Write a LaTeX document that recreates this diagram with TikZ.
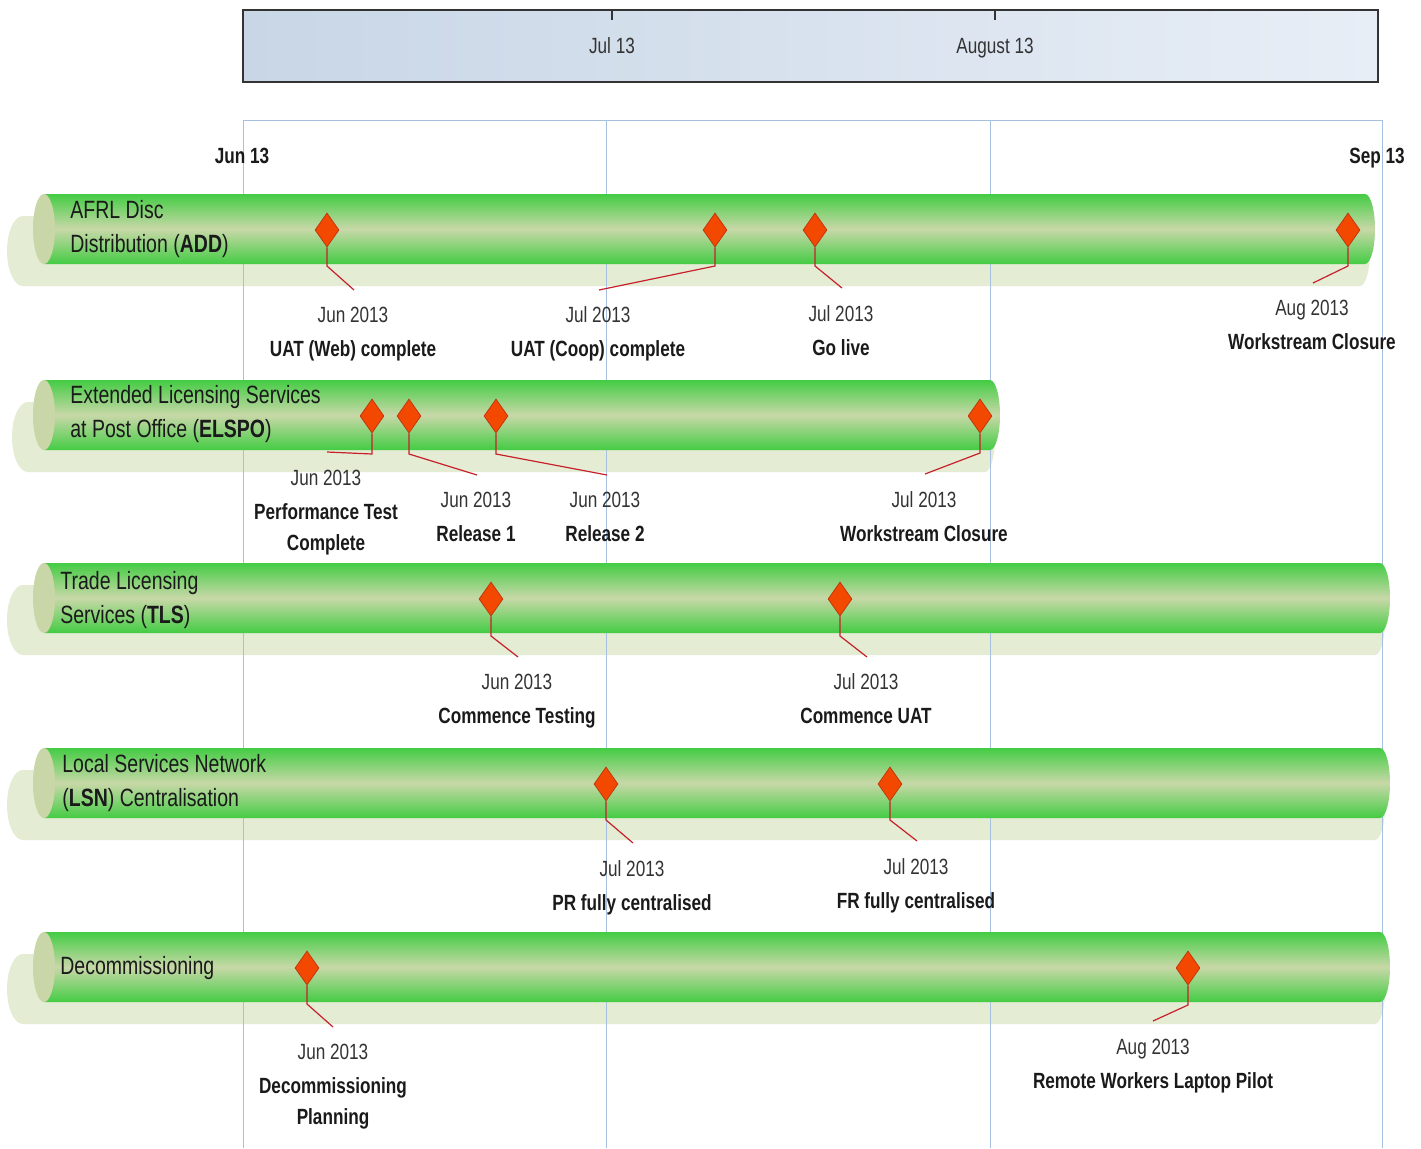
\documentclass[tikz,border=0pt]{standalone}
\usepackage{fontspec}
\setmainfont[FakeStretch=0.78]{Liberation Sans}
\usepackage{xcolor}
\usetikzlibrary{shapes.geometric}
\definecolor{bargreen}{HTML}{44CC44}
\definecolor{barmid}{HTML}{C8D8A8}
\definecolor{capface}{HTML}{C8D6A8}
\definecolor{shadowgreen}{HTML}{E4ECD4}
\definecolor{gridblue}{HTML}{A8C0E0}
\definecolor{hdrleft}{HTML}{C8D6E6}
\definecolor{hdrright}{HTML}{E8EEF6}
\definecolor{milefill}{HTML}{F24800}
\definecolor{mileedge}{HTML}{C03810}
\definecolor{leader}{HTML}{C8202A}
\definecolor{ink}{HTML}{1A1A1A}
\definecolor{datecol}{HTML}{333333}
\tikzset{
  hdr/.style={draw=black!80, line width=0.8pt, left color=hdrleft, right color=hdrright},
  gridline/.style={draw=gridblue, line width=0.5pt},
  shadowbar/.style={fill=shadowgreen},
  barbody/.style={top color=bargreen, bottom color=bargreen, middle color=barmid},
  barcap/.style={fill=capface},
  mstone/.style={diamond, fill=milefill, draw=mileedge, line width=0.4pt, inner sep=0pt, minimum width=12pt, minimum height=17pt},
  lead/.style={draw=leader, line width=0.6pt},
  tick/.style={draw=black!80, line width=0.6pt},
  monthlab/.style={font=\fontsize{11pt}{13pt}\selectfont, text=datecol, anchor=base, inner sep=0pt},
  edgelab/.style={font=\fontsize{11pt}{13pt}\selectfont\bfseries, text=ink, anchor=base, inner sep=0pt},
  barlab/.style={font=\fontsize{12.5pt}{17pt}\selectfont, text=ink, align=left, anchor=base west, inner sep=0pt},
  msl/.style={font=\fontsize{11pt}{15.5pt}\selectfont, text=ink, align=center, anchor=base, inner sep=0pt},
}

\begin{document}
\begin{tikzpicture}[x=0.5pt, y=-0.5pt]
  \fill[white] (0,0) rectangle (1421,1148);
  \useasboundingbox (0,0) rectangle (1421,1148);

  % time scale on top
  \draw[hdr] (243,10) rectangle (1378,82);
  \draw[tick] (612,10) -- (612,20);
  \draw[tick] (995,10) -- (995,20);
  \node[monthlab] (jul) at (612,53) {Jul 13};
  \node[monthlab] (aug) at (995,53) {August 13};

  % shadows under the bars
  \foreach \t/\b/\r/\s in {194/264/1375/7, 380/450/1000/12, 563/633/1390/7, 748/818/1390/7, 932/1002/1390/7}
    \fill[shadowbar] (\s+16,\t+22) -- (\r-15,\t+22) arc[start angle=-90, end angle=90, x radius=10, y radius=35]
      -- (\s+16,\b+22) arc[start angle=90, end angle=270, x radius=16, y radius=35] -- cycle;

  % grid
  \draw[gridline] (243,1148) -- (243,120) -- (1382,120) -- (1382,1148);
  \draw[gridline] (606,120) -- (606,1148);
  \draw[gridline] (990,120) -- (990,1148);
  \node[edgelab] (jun) at (242,163) {Jun 13};
  \node[edgelab] (sep) at (1377,163) {Sep 13};

  % bars
  \foreach \t/\b/\r in {194/264/1375, 380/450/1000, 563/633/1390, 748/818/1390, 932/1002/1390}
  {
    \shade[barbody] (44,\t) -- (\r-10,\t) arc[start angle=-90, end angle=90, x radius=10, y radius=35] -- (44,\b) -- cycle;
    \fill[barcap] (44,{(\t+\b)/2}) ellipse [x radius=11, y radius=35];
  }

  \node[barlab] (add) at (70,252.5) {AFRL Disc\\Distribution (\textbf{ADD})};
  \node[barlab] (elspo) at (70,437.5) {Extended Licensing Services\\at Post Office (\textbf{ELSPO})};
  \node[barlab] (tls) at (60,623.5) {Trade Licensing\\Services (\textbf{TLS})};
  \node[barlab] (lsn) at (62,806.5) {Local Services Network\\(\textbf{LSN}) Centralisation};
  \node[barlab] (dec) at (60,974.5) {Decommissioning};

  % milestones and leaders
  \foreach \n/\x/\y/\by/\ex/\ey in {a1/327/230/266/354/290, a2/715/230/266/599/290, a3/815/230/266/842/288, a4/1348/230/266/1313/283,
      e1/372/416/454/327/452, e2/409/416/454/477/475, e3/496/416/454/607/475, e4/980/416/453/925/474,
      t1/491/599/636/518/657, t2/840/599/636/867/657, l1/606/784/820/633/843, l2/890/784/820/917/841,
      d1/307/968/1004/333/1027, d2/1188/968/1005/1153/1021}
  {
    \node[mstone] (\n) at (\x,\y) {};
    \coordinate (\n b) at (\x,\by);
    \coordinate (\n e) at (\ex,\ey);
    \draw[lead] (\n.south) -- (\n b) -- (\n e);
  }

  % milestone texts
  \node[msl] (a1t) at (353,356) {{\color{datecol}Jun 2013}\\[1.5pt]\textbf{UAT (Web) complete}};
  \node[msl] (a2t) at (598,356) {{\color{datecol}Jul 2013}\\[1.5pt]\textbf{UAT (Coop) complete}};
  \node[msl] (a3t) at (841,355) {{\color{datecol}Jul 2013}\\[1.5pt]\textbf{Go live}};
  \node[msl] (a4t) at (1312,349) {{\color{datecol}Aug 2013}\\[1.5pt]\textbf{Workstream Closure}};
  \node[msl] (e1t) at (326,550) {{\color{datecol}Jun 2013}\\[1.5pt]\textbf{Performance Test}\\\textbf{Complete}};
  \node[msl] (e2t) at (476,541) {{\color{datecol}Jun 2013}\\[1.5pt]\textbf{Release 1}};
  \node[msl] (e3t) at (605,541) {{\color{datecol}Jun 2013}\\[1.5pt]\textbf{Release 2}};
  \node[msl] (e4t) at (924,541) {{\color{datecol}Jul 2013}\\[1.5pt]\textbf{Workstream Closure}};
  \node[msl] (t1t) at (517,723) {{\color{datecol}Jun 2013}\\[1.5pt]\textbf{Commence Testing}};
  \node[msl] (t2t) at (866,723) {{\color{datecol}Jul 2013}\\[1.5pt]\textbf{Commence UAT}};
  \node[msl] (l1t) at (632,910) {{\color{datecol}Jul 2013}\\[1.5pt]\textbf{PR fully centralised}};
  \node[msl] (l2t) at (916,908) {{\color{datecol}Jul 2013}\\[1.5pt]\textbf{FR fully centralised}};
  \node[msl] (d1t) at (333,1124) {{\color{datecol}Jun 2013}\\[1.5pt]\textbf{Decommissioning}\\\textbf{Planning}};
  \node[msl] (d2t) at (1153,1088) {{\color{datecol}Aug 2013}\\[1.5pt]\textbf{Remote Workers Laptop Pilot}};
\end{tikzpicture}
\end{document}
